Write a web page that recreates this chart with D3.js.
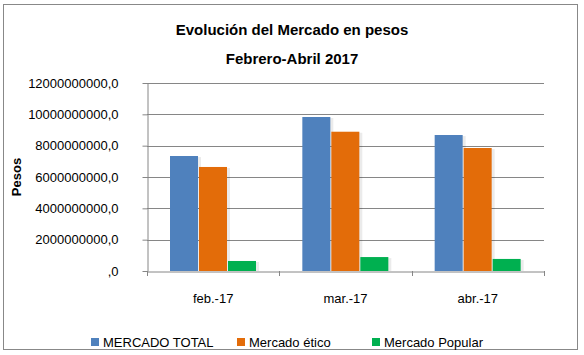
<!DOCTYPE html>
<html><head><meta charset="utf-8">
<script src="https://cdn.jsdelivr.net/npm/d3@7"></script>
<style>body{margin:0;background:#fff}svg{display:block}text{font-family:"Liberation Sans",Arial,sans-serif}</style>
</head><body><svg id="c" width="584" height="355"></svg>
<script>
const categories = ["feb.-17", "mar.-17", "abr.-17"];
const seriesNames = ["MERCADO TOTAL", "Mercado ético", "Mercado Popular"];
const mercadoTotal = [7340000000, 9830000000, 8680000000];
const mercadoEtico = [6640000000, 8890000000, 7850000000];
const mercadoPopular = [640000000, 890000000, 770000000];
const yTicks = [0, 2000000000, 4000000000, 6000000000, 8000000000, 10000000000, 12000000000];
const colors = ["#4F81BD", "#E36C09", "#00B050"];
const series = [mercadoTotal, mercadoEtico, mercadoPopular];

(function(){
const svg = d3.select("#c");
svg.append("rect").attr("x",3.5).attr("y",4.5).attr("width",574).attr("height",345)
  .attr("fill","#fff").attr("stroke","#888").attr("stroke-width",1);

const pl=147, pr=544, pt=83, pb=271;
const x = d3.scaleBand().domain(categories).range([pl,pr]);
const y = d3.scaleLinear().domain([0,12000000000]).range([pb,pt]);
const fmt = v => v===0 ? ",0" : v + ",0";

svg.append("g").selectAll("line").data(yTicks.filter(d=>d>0)).join("line")
  .attr("x1",pl).attr("x2",pr).attr("y1",d=>Math.round(y(d))+0.5).attr("y2",d=>Math.round(y(d))+0.5)
  .attr("stroke","#868686");

const ya = svg.append("g").attr("transform",`translate(${pl+0.5},0)`)
  .call(d3.axisLeft(y).tickValues(yTicks).tickFormat(fmt).tickSize(5).tickSizeOuter(0).tickPadding(24));
ya.select(".domain").attr("stroke","#868686");
ya.selectAll(".tick line").attr("stroke","#868686");
ya.selectAll(".tick text").attr("font-size",13).attr("fill","#000").attr("font-family","Liberation Sans");

const g = svg.append("g");
series.forEach((s,i)=>{
  g.selectAll(null).data(s).join("rect")
    .attr("x",(d,j)=>x(categories[j]) + 24 + i*29)
    .attr("width",30).attr("y",d=>y(d)+1).attr("height",d=>pb-y(d)-1)
    .attr("fill","#000").attr("opacity",0.08);
  g.selectAll(null).data(s).join("rect")
    .attr("x",(d,j)=>x(categories[j]) + 23 + i*29)
    .attr("width",28)
    .attr("y",d=>y(d)).attr("height",d=>pb-y(d))
    .attr("fill",colors[i]);
});

const xa = svg.append("g").attr("transform",`translate(0,${pb+0.5})`)
  .call(d3.axisBottom(x).tickSize(0).tickPadding(22));
xa.select(".domain").attr("stroke","#868686");
xa.selectAll(".tick text").attr("font-size",13).attr("fill","#000").attr("font-family","Liberation Sans");
svg.append("g").selectAll("line").data([...categories.map(c=>x(c)), pr]).join("line")
  .attr("x1",d=>Math.round(d)+0.5).attr("x2",d=>Math.round(d)+0.5).attr("y1",pb).attr("y2",pb+5)
  .attr("stroke","#868686");

svg.append("text").attr("x",292).attr("y",35).attr("text-anchor","middle").attr("font-size",15).attr("font-weight","bold").text("Evolución del Mercado en pesos");
svg.append("text").attr("x",292).attr("y",64).attr("text-anchor","middle").attr("font-size",15).attr("font-weight","bold").text("Febrero-Abril 2017");
svg.append("text").attr("transform","translate(21,177) rotate(-90)").attr("text-anchor","middle").attr("font-size",13).attr("font-weight","bold").text("Pesos");

const legX = [91, 237, 372];
const lg = svg.append("g");
seriesNames.forEach((n,i)=>{
  lg.append("rect").attr("x",legX[i]).attr("y",338).attr("width",8).attr("height",8).attr("fill",colors[i]);
  lg.append("text").attr("x",legX[i]+12).attr("y",347).attr("font-size",13).text(n);
});
})();
</script></body></html>
